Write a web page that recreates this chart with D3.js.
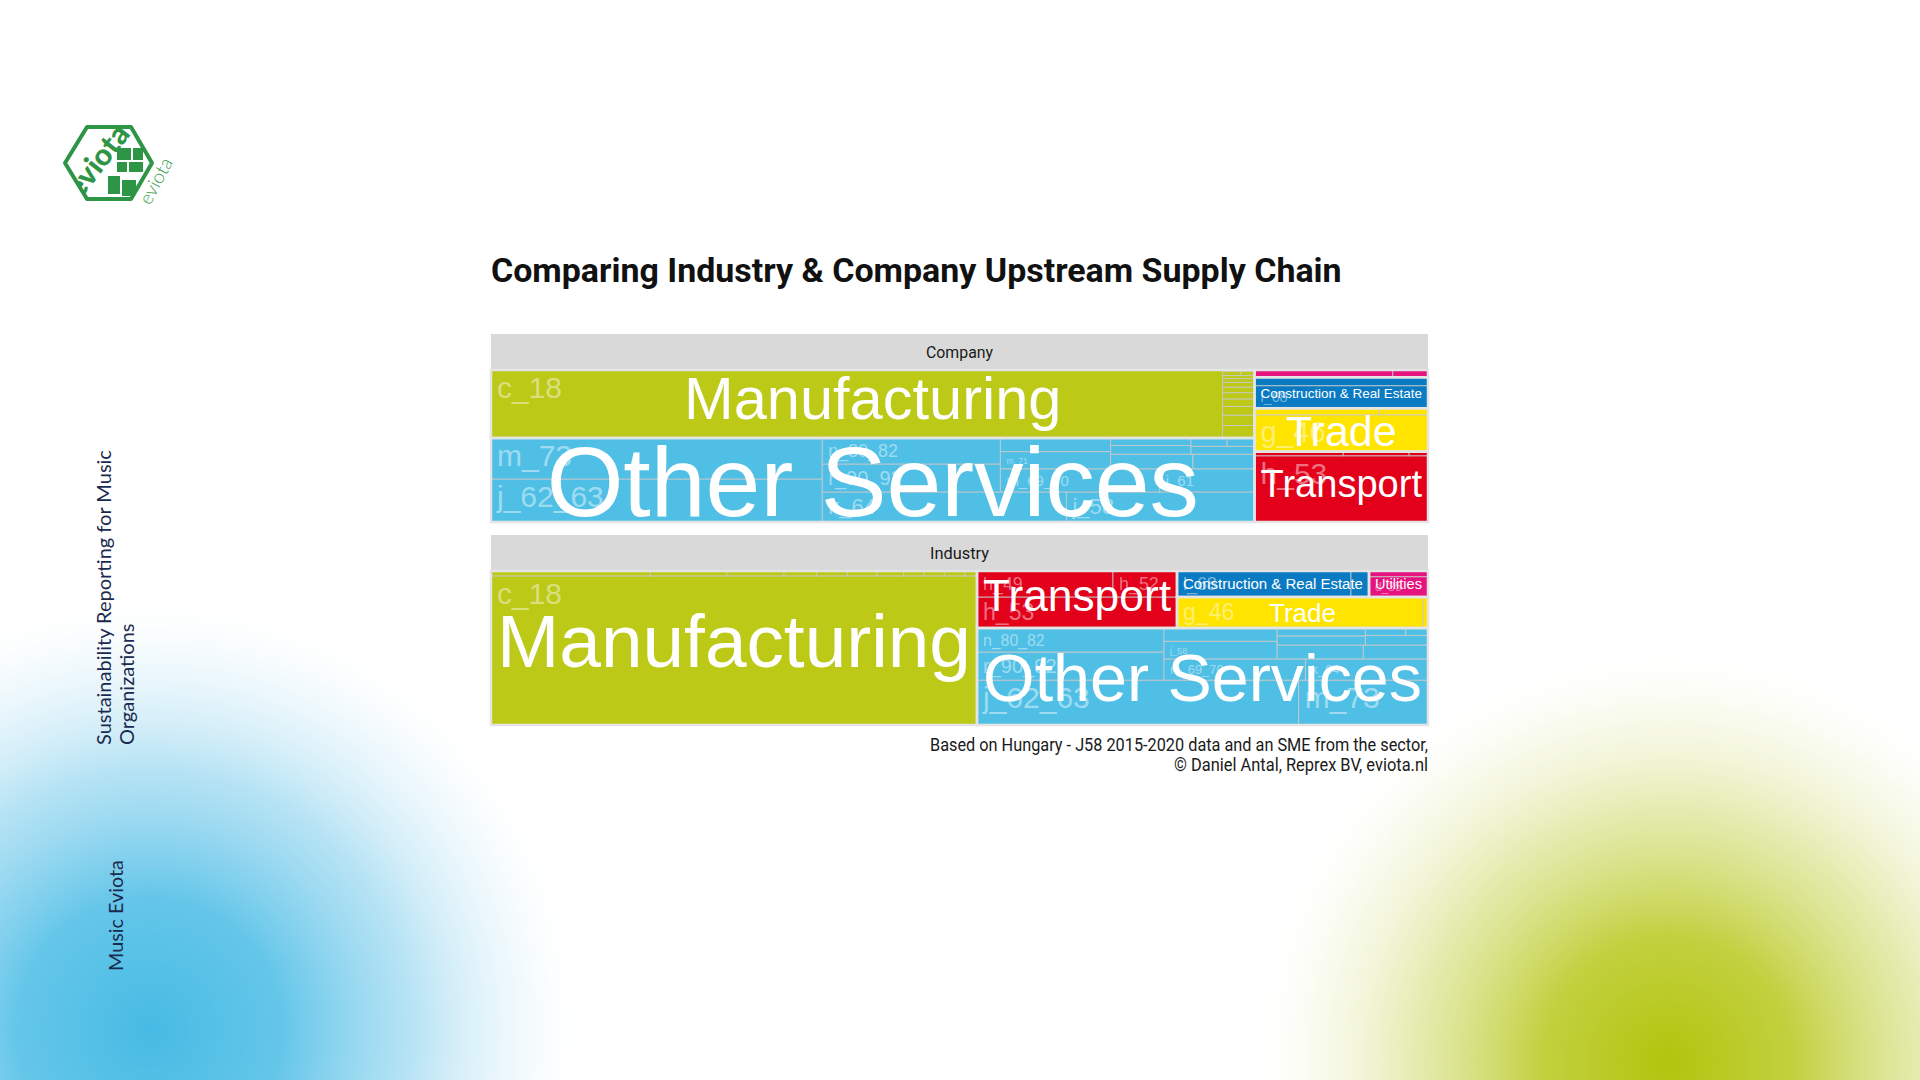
<!DOCTYPE html>
<html><head><meta charset="utf-8">
<script src="https://cdn.jsdelivr.net/npm/d3@7"></script>
<style>html,body{margin:0;padding:0;background:#fff}svg{display:block}</style>
</head><body>
<svg id="c" width="1920" height="1080"></svg>
<script>
// ---------- data ----------
const title = "Comparing Industry & Company Upstream Supply Chain";
const caption = ["Based on Hungary - J58 2015-2020 data and an SME from the sector,", "\u00A9 Daniel Antal, Reprex BV, eviota.nl"];
const panels = ["Company", "Industry"];
const groups = ["Manufacturing", "Other Services", "Transport", "Trade", "Construction & Real Estate", "Utilities"];
const groupColors = ["#bcc916", "#50bfe6", "#e2001b", "#ffe400", "#0a7bc2", "#e6137f"];

const companyCodes  = ["c_18","c_17","c_20","c_22","c_25","c_16","c_23","c_21","c_26","c_27","c_28","c_31_32","c_33",
  "j_62_63","m_73","k_64","j_58","r_90_92","n_80_82","m_69_70","j_61","m_71","n_78","s_95","m_74_75","n_79","s_96","j_59_60","m_72","s_94",
  "h_53","h_49","h_52","h_51","g_46","g_47","g_45","l_68","f_41_43","d_35","e_36_39"];
const companyGroups = ["Manufacturing","Manufacturing","Manufacturing","Manufacturing","Manufacturing","Manufacturing","Manufacturing","Manufacturing","Manufacturing","Manufacturing","Manufacturing","Manufacturing","Manufacturing",
  "Other Services","Other Services","Other Services","Other Services","Other Services","Other Services","Other Services","Other Services","Other Services","Other Services","Other Services","Other Services","Other Services","Other Services","Other Services","Other Services","Other Services",
  "Transport","Transport","Transport","Transport","Trade","Trade","Trade","Construction & Real Estate","Construction & Real Estate","Utilities","Utilities"];
const companyValues = [49708,400,330,280,240,200,180,150,120,100,80,60,36,
  14233,13571,7320,5640,4984,4628,3696,2200,1892,1500,1200,900,700,600,500,300,228,
  11480,366,272,78,6380,820,320,3910,1460,1000,255];

const industryCodes  = ["c_18","c_20","c_17","c_22","c_25","c_23","c_16","c_26","c_21","c_27","c_28","c_31_32",
  "j_62_63","m_73","r_90_92","n_80_82","m_69_70","k_64","j_58","j_61","n_77","n_78","m_74_75","s_95","j_59_60","m_71","s_96",
  "h_53","h_49","h_52","g_46","g_47","l_68","f_41_43","d_35","e_36_39"];
const industryGroups = ["Manufacturing","Manufacturing","Manufacturing","Manufacturing","Manufacturing","Manufacturing","Manufacturing","Manufacturing","Manufacturing","Manufacturing","Manufacturing","Manufacturing",
  "Other Services","Other Services","Other Services","Other Services","Other Services","Other Services","Other Services","Other Services","Other Services","Other Services","Other Services","Other Services","Other Services","Other Services","Other Services",
  "Transport","Transport","Transport","Trade","Trade","Construction & Real Estate","Construction & Real Estate","Utilities","Utilities"];
const industryValues = [72464,780,375,280,160,150,145,130,100,100,100,60,
  14432,5800,5250,4500,3000,2600,2000,1500,1200,900,800,700,600,300,165,
  6200,3536,1664,7626,155,4524,468,1200,334];

// ---------- drawing ----------
const svg = d3.select("#c");
const defs = svg.append("defs");
function radial(id, stops){
  const g = defs.append("radialGradient").attr("id", id);
  stops.forEach(([o,c,a]) => g.append("stop").attr("offset", o).attr("stop-color", c).attr("stop-opacity", a));
}
radial("gBlue", [[0,"#47bbe4",1],[0.3,"#5cc3e8",0.95],[0.6,"#9ad8f0",0.7],[0.85,"#d9f0f9",0.35],[1,"#ffffff",0]]);
radial("gGreen", [[0,"#b2c40c",1],[0.3,"#bccb2a",0.9],[0.6,"#d3de7a",0.6],[0.85,"#eef2cc",0.3],[1,"#ffffff",0]]);
svg.append("circle").attr("cx",150).attr("cy",1030).attr("r",440).attr("fill","url(#gBlue)");
svg.append("circle").attr("cx",1668).attr("cy",1062).attr("r",420).attr("fill","url(#gGreen)");

// logo
const logo = svg.append("g");
defs.append("clipPath").attr("id","hexClip").append("path")
  .attr("d","M65,163 L87,127 L131,127 L152,163 L131,199 L87,199 Z");
logo.append("path").attr("d","M65,163 L87,127 L131,127 L152,163 L131,199 L87,199 Z")
  .attr("fill","none").attr("stroke","#2e9446").attr("stroke-width",4).attr("stroke-linejoin","round");
const inner = logo.append("g").attr("clip-path","url(#hexClip)");
inner.append("text").attr("transform","translate(80,200) rotate(-52)")
  .attr("font-family","Lato, 'Open Sans', sans-serif").attr("font-weight",900).attr("font-size",30)
  .attr("fill","#2e9446").text("eviota");
[[117,148,14,12],[133,148,10,12],[117,162,10,10],[129,162,14,10],[108,176,12,18],[122,180,14,16]].forEach(r=>{
  inner.append("rect").attr("x",r[0]).attr("y",r[1]).attr("width",r[2]).attr("height",r[3]).attr("fill","#2e9446");
});
logo.append("text").attr("transform","translate(150,206) rotate(-62)")
  .attr("font-family","Lato, sans-serif").attr("font-weight",300).attr("font-size",19)
  .attr("fill","#3aa04f").text("eviota");

// vertical side texts
const sideFont = "Lato, 'Noto Sans', sans-serif";
svg.append("text").attr("transform","translate(111,745) rotate(-90)").attr("font-family",sideFont)
  .attr("font-size",20).attr("fill","#1b2a4e").text("Sustainability Reporting for Music");
svg.append("text").attr("transform","translate(134,745) rotate(-90)").attr("font-family",sideFont)
  .attr("font-size",20).attr("fill","#1b2a4e").text("Organizations");
svg.append("text").attr("transform","translate(123,971) rotate(-90)").attr("font-family",sideFont)
  .attr("font-size",19.8).attr("fill","#1b2a4e").text("Music Eviota");

// title
const L = 491, R = 1428;
const tTitle = svg.append("text").attr("x", L).attr("y", 282)
  .attr("font-family","Roboto, sans-serif").attr("font-weight",700).attr("font-size",100)
  .attr("fill","#111").text(title);
const tl = tTitle.node().getComputedTextLength();
tTitle.attr("font-size", 100 * 851 / tl);

const color = d3.scaleOrdinal().domain(groups).range(groupColors);
const labelFont = "'Liberation Sans', Arial, sans-serif";

// measurer
const meas = svg.append("text").attr("font-family", labelFont).attr("font-size",100).attr("visibility","hidden");
function emWidth(s){ meas.text(s); return meas.node().getComputedTextLength()/100; }

function drawPanel(name, codes, grps, vals, stripTop, top, bottom, stripTextW){
  const g = svg.append("g");
  g.append("rect").attr("x",L).attr("y",stripTop).attr("width",R-L).attr("height",top-stripTop).attr("fill","#d9d9d9");
  g.append("text").attr("x",(L+R)/2).attr("y",(stripTop+top)/2+6).attr("text-anchor","middle")
    .attr("font-family","'Liberation Sans Narrow', 'Roboto', sans-serif").attr("font-size",16.5)
    .attr("fill","#1a1a1a").attr("textLength",stripTextW).attr("lengthAdjust","spacingAndGlyphs").text(name);

  const rows = codes.map((c,i)=>({code:c, group:grps[i], value:vals[i]}));
  const nested = d3.group(rows, d=>d.group);
  const data = {name, children: Array.from(nested, ([gr, arr]) => ({name:gr, children: arr.map(d=>({name:d.code, value:d.value}))}))};
  const root = d3.hierarchy(data).sum(d=>d.value||0).sort((a,b)=>b.value-a.value);
  d3.treemap().size([1,1]).tile(d3.treemapSquarify.ratio(1))(root);
  const x = d3.scaleLinear().domain([0,1]).range([L,R]);
  const y = d3.scaleLinear().domain([0,1]).range([bottom,top]);
  const box = n => ({x0:x(n.x0), x1:x(n.x1), y0:y(n.y1), y1:y(n.y0)});

  const leaves = root.leaves();
  g.selectAll("rect.leaf").data(leaves).join("rect").attr("class","leaf")
    .attr("x",d=>box(d).x0).attr("y",d=>box(d).y0)
    .attr("width",d=>box(d).x1-box(d).x0).attr("height",d=>box(d).y1-box(d).y0)
    .attr("fill",d=>color(d.parent.data.name))
    .attr("stroke","rgba(200,200,200,0.85)").attr("stroke-width",1);
  const grpNodes = root.children;
  g.selectAll("rect.grp").data(grpNodes).join("rect").attr("class","grp")
    .attr("x",d=>box(d).x0).attr("y",d=>box(d).y0)
    .attr("width",d=>box(d).x1-box(d).x0).attr("height",d=>box(d).y1-box(d).y0)
    .attr("fill","none").attr("stroke","#e4e4e4").attr("stroke-width",2.5);

  // subgroup labels
  leaves.forEach(d=>{
    const b = box(d), w = b.x1-b.x0, h = b.y1-b.y0;
    const ew = emWidth(d.data.name);
    const s = Math.min(30, (w-10)/ew, (h-9)/0.95);
    if (s < 6) return;
    g.append("text").attr("x", b.x0+6).attr("y", b.y0+6+0.73*s)
      .attr("font-family",labelFont).attr("font-size",s).attr("fill","rgba(255,255,255,0.45)").text(d.data.name);
  });
  // group labels
  grpNodes.forEach(d=>{
    const b = box(d), w = b.x1-b.x0, h = b.y1-b.y0;
    const t = d.data.name;
    const ew = emWidth(t);
    const desc = /[gpqyj]/.test(t) ? 0.21 : 0;
    const s = Math.min((w-12)/ew, (h-12)/(0.73+desc));
    if (s < 6) return;
    const cy = (b.y0+b.y1)/2;
    g.append("text").attr("x",(b.x0+b.x1)/2).attr("y", cy + (0.73-desc)/2*s)
      .attr("text-anchor","middle").attr("font-family",labelFont).attr("font-size",s)
      .attr("fill","#ffffff").text(t);
  });
}
drawPanel(panels[0], companyCodes, companyGroups, companyValues, 334, 370, 522, 67);
drawPanel(panels[1], industryCodes, industryGroups, industryValues, 535, 571, 725, 59);

// caption
svg.append("text").attr("x",R).attr("y",751).attr("text-anchor","end")
  .attr("font-family","'Liberation Sans Narrow', Roboto, sans-serif").attr("font-size",17.5).attr("fill","#1a1a1a")
  .attr("textLength",498).attr("lengthAdjust","spacingAndGlyphs").text(caption[0]);
svg.append("text").attr("x",R).attr("y",771).attr("text-anchor","end")
  .attr("font-family","'Liberation Sans Narrow', Roboto, sans-serif").attr("font-size",17.5).attr("fill","#1a1a1a")
  .attr("textLength",254).attr("lengthAdjust","spacingAndGlyphs").text(caption[1]);
</script>
</body></html>
